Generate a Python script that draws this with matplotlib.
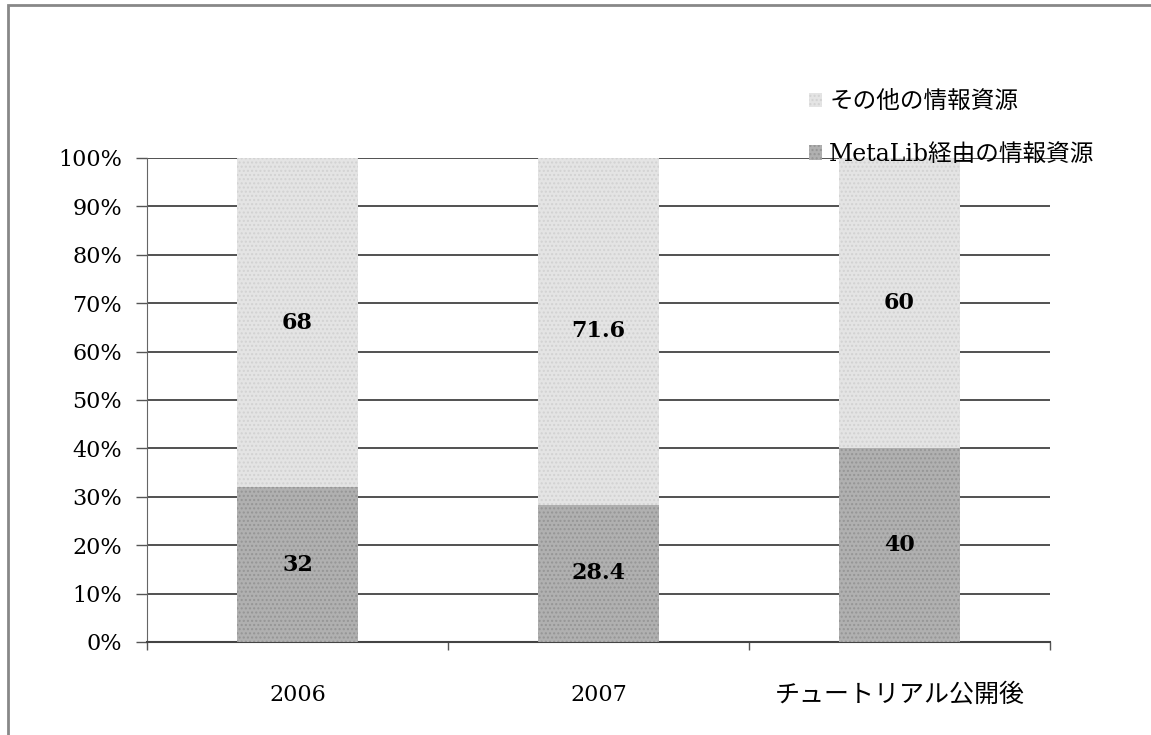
import matplotlib.pyplot as plt
from matplotlib.patches import Patch, Rectangle
from matplotlib.ticker import FixedLocator, PercentFormatter

plt.rcParams['font.family'] = ['DejaVu Serif', 'Noto Sans CJK JP']

# Data
categories = ['2006', '2007', 'チュートリアル公開後']
metalib = [32, 28.4, 40]
others = [68, 71.6, 60]
labels_metalib = ['32', '28.4', '40']
labels_others = ['68', '71.6', '60']

fig = plt.figure(figsize=(11.51, 7.35), dpi=100)
fig.patch.set_facecolor('white')

# outer frame (left + top edges of a box)
fig.patches.append(Rectangle((8 / 1151, -0.01), 1.2, 1 - 5 / 735 + 0.01, transform=fig.transFigure,
                             fill=False, edgecolor='#888888', linewidth=2))

ax = fig.add_axes([147 / 1151, 1 - 642 / 735, (1050 - 147) / 1151, (642 - 158) / 735])

x = list(range(len(categories)))
width = 0.4
c_low = '#b0b0b0'
c_high = '#e4e4e4'
b1 = ax.bar(x, metalib, width, color=c_low, hatch='....', edgecolor='#959595', linewidth=0, zorder=3)
b2 = ax.bar(x, others, width, bottom=metalib, color=c_high, hatch='....', edgecolor='#d2d2d2',
            linewidth=0, zorder=3)

for i in x:
    ax.text(i, metalib[i] / 2, labels_metalib[i], ha='center', va='center', fontsize=16,
            fontweight='bold', zorder=4)
    ax.text(i, metalib[i] + others[i] / 2, labels_others[i], ha='center', va='center', fontsize=16,
            fontweight='bold', zorder=4)

ax.set_xlim(-0.5, 2.5)
ax.set_ylim(0, 100)
ax.yaxis.set_major_locator(FixedLocator(range(0, 101, 10)))
ax.yaxis.set_major_formatter(PercentFormatter(decimals=0))
ax.grid(axis='y', color='#333333', linewidth=1.2, zorder=1)
ax.set_axisbelow(True)

ax.set_xticks(x)
ax.set_xticklabels(categories, fontsize=16)
ax.get_xticklabels()[2].set_fontsize(18)
ax.xaxis.set_minor_locator(FixedLocator([-0.5, 0.5, 1.5, 2.5]))
ax.tick_params(axis='x', which='major', length=0, pad=30)
ax.tick_params(axis='x', which='minor', length=6, width=1, color='#555555', direction='out')
ax.tick_params(axis='y', labelsize=16, length=8, width=1, color='#555555', pad=10)

for s in ['top', 'right']:
    ax.spines[s].set_visible(False)
ax.spines['left'].set_color('#666666')
ax.spines['bottom'].set_color('#444444')
ax.spines['bottom'].set_linewidth(1.5)

handles = [Patch(facecolor=c_high, hatch='....', edgecolor='#d2d2d2', linewidth=0),
           Patch(facecolor=c_low, hatch='....', edgecolor='#959595', linewidth=0)]
fig.legend(handles, ['その他の情報資源', 'MetaLib経由の情報資源'], loc='upper left',
           bbox_to_anchor=(788 / 1151, 1 - 69 / 735), frameon=False, fontsize=17,
           handlelength=0.55, handleheight=0.55, handletextpad=0.3, labelspacing=1.25)

plt.savefig('out.png', dpi=100)
